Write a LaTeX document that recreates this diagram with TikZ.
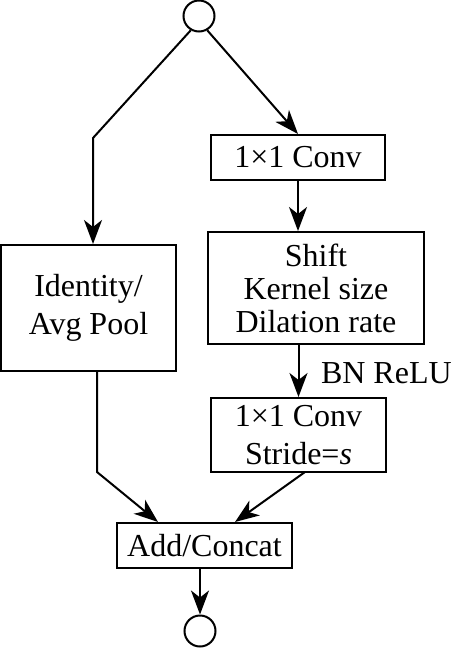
\documentclass[tikz,border=0pt]{standalone}
\usepackage{fontspec}
\setmainfont{Liberation Serif}
\usepackage{tikz}
\usetikzlibrary{arrows.meta,calc,positioning}

\begin{document}
\begin{tikzpicture}[x=0.5pt, y=-0.5pt, line width=1pt,
  font=\fontsize{16}{19}\selectfont,
  blockbox/.style={draw, rectangle, align=center, inner sep=0pt},
  portcircle/.style={draw, circle, minimum size=15.5pt, inner sep=0pt},
  flow/.style={-{Stealth[length=12pt,width=9pt,inset=3.5pt]}}]
  \useasboundingbox (0,0) rectangle (450,648);
  % input / output
  \node[portcircle] (in) at (199,16) {};
  \node[portcircle] (out) at (200,631) {};
  % shift branch
  \node[blockbox, minimum width=87pt, minimum height=22.5pt] (conva) at (298,157.5) {1×1 Conv};
  \node[blockbox, minimum width=108pt, minimum height=56pt, font=\fontsize{16}{16.5}\selectfont] (shift) at (316,288) {Shift\\Kernel size\\Dilation rate};
  \node[blockbox, minimum width=87.5pt, minimum height=37pt] (convb) at (298.5,435) {1×1 Conv\\Stride=\textit{s}};
  \node[anchor=west, inner sep=0pt] (bnrelu) at (320,373) {BN ReLU};
  % shortcut branch
  \node[blockbox, minimum width=87.5pt, minimum height=63pt] (ident) at (88.5,308) {Identity/\\Avg Pool};
  \node[blockbox, minimum width=87.5pt, minimum height=22.5pt] (add) at (204.5,545.5) {Add/Concat};
  % bends
  \coordinate (lbend) at (93,138);
  \coordinate (lknee) at (97,472);
  \coordinate (rfoot) at (305,472);
  % connectors
  \draw[flow] (in.240) -- (lbend) -- (lbend |- ident.north);
  \draw[flow] (in.300) -- (conva.north);
  \draw[flow] (conva.south) -- (conva.south |- shift.north);
  \draw[flow] (convb.north |- shift.south) -- (convb.north);
  \draw[flow] (lknee |- ident.south) -- (lknee) -- ($(add.north)+(-46.5,0)$);
  \draw[flow] (rfoot) -- ($(add.north)+(30.5,0)$);
  \draw[flow] (add.south -| out) -- (out.north);
\end{tikzpicture}
\end{document}
